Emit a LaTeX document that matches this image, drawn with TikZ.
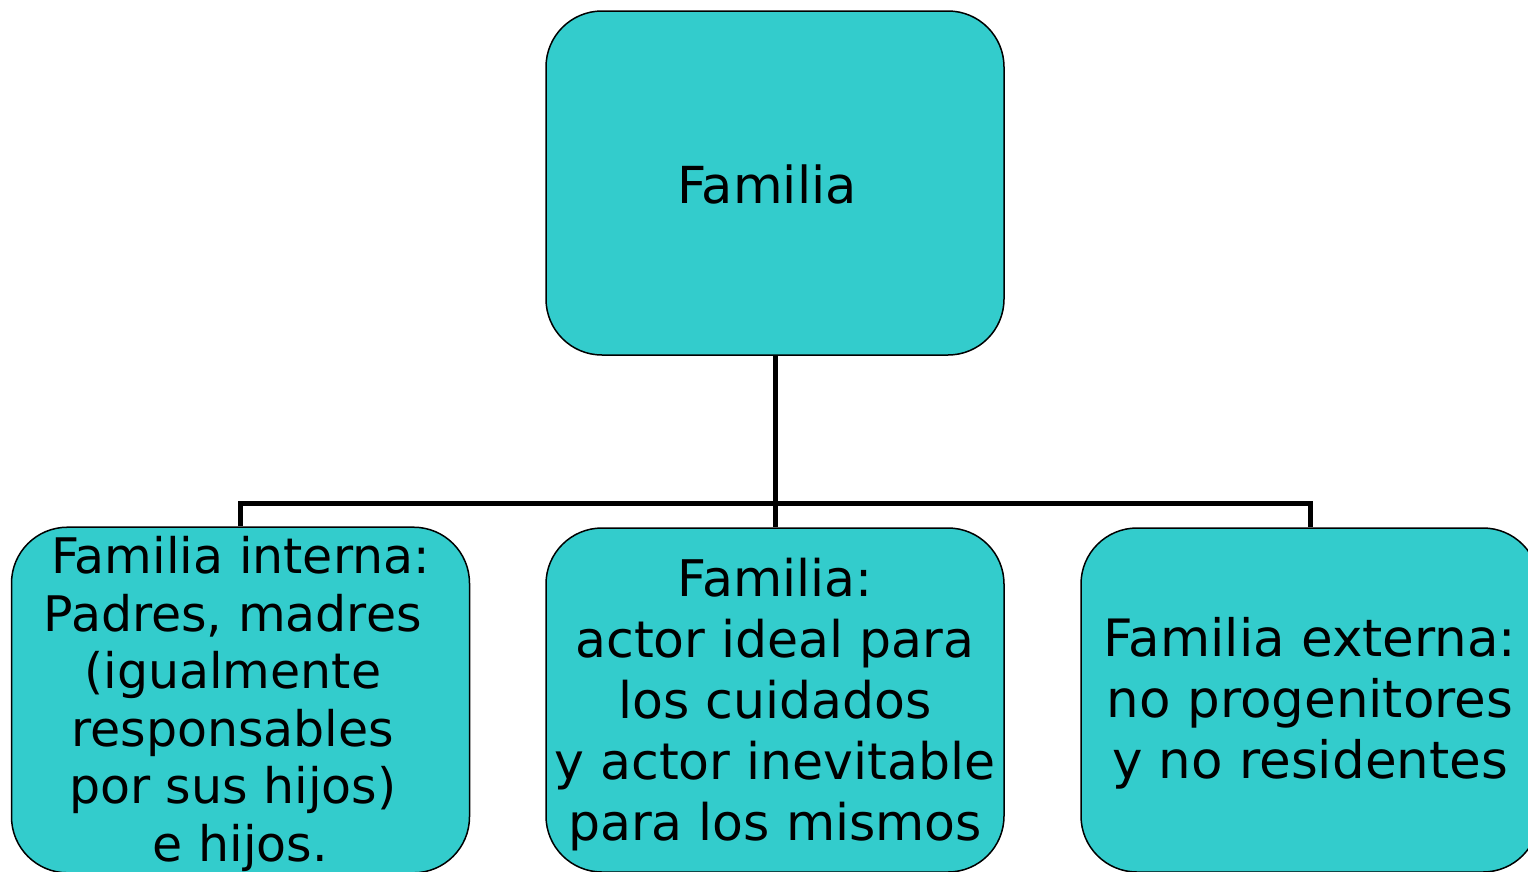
\documentclass[tikz,border=0pt]{standalone}
\usepackage{fontspec}
\setmainfont{DejaVu Sans}
\definecolor{boxcyan}{HTML}{33CCCC}
\newcommand{\famtext}[2]{\raisebox{#1}[\height][\depth]{\begin{tabular}{@{}c@{}}#2\end{tabular}}}
\begin{document}
\begin{tikzpicture}[x=1pt,y=-1pt,
  famblock/.style={draw=black, line width=1.5pt, fill=boxcyan, rounded corners=56pt,
    minimum width=458pt, minimum height=344pt, inner sep=0pt,
    text=black},
  conn/.style={draw=black, line width=5pt, line join=miter}]
\clip (0,0) rectangle (1528,871);
\fill[white] (0,0) rectangle (1528,871);
\node[famblock, font=\fontsize{51}{60}\selectfont] (top) at (775,183) {\famtext{-8pt}{Familia\ \mbox{}}};
\node[famblock, font=\fontsize{49}{57.6}\selectfont] (left) at (240.5,700) {\famtext{-6pt}{Familia interna:\\Padres, madres\ \mbox{}\\(igualmente\ \mbox{}\\responsables\ \mbox{}\\por sus hijos)\ \mbox{}\\e hijos.}};
\node[famblock, font=\fontsize{50.5}{61}\selectfont] (mid) at (775,700) {\famtext{-6pt}{Familia:\\actor ideal para\\los cuidados\\y actor inevitable\\para los mismos}};
\node[famblock, font=\fontsize{51.5}{61}\selectfont] (right) at (1310,700) {\famtext{-5pt}{Familia externa:\\no progenitores\\y no residentes}};
\coordinate (bus) at (775,503);
\draw[conn] (top.south) -- (mid.north);
\draw[conn] (left.north) |- (bus) -| (right.north);
\end{tikzpicture}
\end{document}
